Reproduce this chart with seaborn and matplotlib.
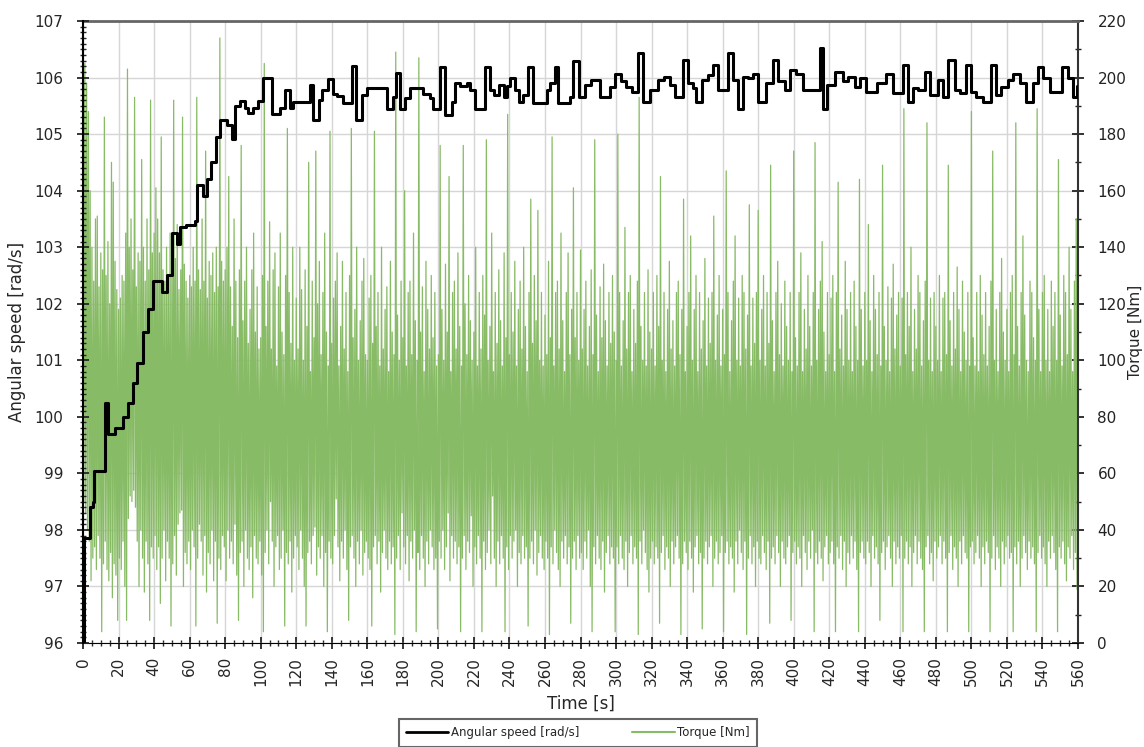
import numpy as np
import pandas as pd
import matplotlib
matplotlib.use('Agg')
import matplotlib.pyplot as plt
from matplotlib.lines import Line2D
from matplotlib.ticker import MultipleLocator
import seaborn as sns

# Angular speed, step signal: time where each step starts [s] and its value [rad/s]
speed_time = [
    0, 0.3, 3.8, 5.5, 6.4, 12.4, 13.8, 18.0, 22.7, 25.5,
    28.3, 30.2, 33.6, 36.8, 39.2, 44.3, 47.5, 49.9, 52.7, 54.6,
    58.0, 63.0, 64.4, 67.4, 69.6, 72.0, 74.9, 77.1, 80.9, 83.7,
    85.5, 88.4, 91.2, 93.0, 95.8, 98.7, 101.1, 106.2, 110.9, 113.7,
    116.5, 118.4, 127.8, 129.6, 133.0, 134.3, 138.1, 140.5, 142.8, 146.5,
    151.2, 153.7, 156.8, 160.1, 170.9, 174.3, 176.2, 178.4, 181.2, 184.1,
    191.6, 195.0, 197.2, 201.0, 203.8, 207.5, 209.4, 212.2, 216.0, 217.8,
    220.6, 226.3, 229.2, 231.1, 233.9, 236.7, 238.6, 240.4, 243.2, 245.1,
    247.9, 250.7, 253.5, 261.0, 262.9, 265.7, 267.5, 274.0, 275.9, 279.2,
    282.4, 286.1, 290.8, 296.5, 299.3, 303.0, 305.8, 308.7, 312.4, 315.2,
    319.0, 323.7, 326.9, 330.2, 333.0, 337.7, 340.6, 343.4, 345.2, 348.1,
    351.8, 354.6, 357.4, 363.1, 365.9, 368.7, 371.5, 374.3, 377.1, 379.9,
    384.6, 388.4, 391.2, 395.0, 397.8, 401.5, 405.3, 414.7, 416.5, 418.8,
    423.1, 427.8, 430.6, 434.4, 437.2, 440.9, 446.6, 452.2, 455.9, 461.6,
    464.4, 467.2, 470.0, 473.8, 476.6, 481.3, 484.1, 486.9, 490.6, 493.5,
    497.2, 500.0, 502.8, 506.6, 511.3, 514.1, 516.9, 520.7, 523.5, 527.2,
    531.0, 534.7, 537.6, 540.4, 544.2, 550.8, 554.5, 557.3, 559.6, 560.0,
]
speed_value = [
    96.0, 97.85, 98.4, 98.5, 99.05, 100.25, 99.7, 99.8, 100.0, 100.25,
    100.6, 100.95, 101.5, 101.9, 102.4, 102.2, 102.5, 103.25, 103.05, 103.35,
    103.4, 103.47, 104.1, 103.9, 104.2, 104.5, 104.95, 105.25, 105.16, 104.92,
    105.49, 105.58, 105.47, 105.37, 105.46, 105.59, 106.0, 105.35, 105.46, 105.78,
    105.47, 105.57, 105.87, 105.25, 105.6, 105.78, 105.98, 105.71, 105.67, 105.55,
    106.2, 105.25, 105.69, 105.81, 105.45, 105.65, 106.08, 105.45, 105.63, 105.81,
    105.71, 105.63, 105.45, 106.19, 105.34, 105.57, 105.9, 105.85, 105.91, 105.78,
    105.45, 106.19, 105.78, 105.69, 105.87, 105.66, 105.85, 105.99, 105.78, 105.57,
    105.69, 106.19, 105.55, 105.78, 105.9, 106.19, 105.55, 105.66, 106.3, 105.66,
    105.87, 105.96, 105.66, 105.84, 106.07, 105.93, 105.84, 105.75, 106.43, 105.57,
    105.78, 105.96, 106.01, 105.87, 105.66, 106.31, 105.9, 105.81, 105.57, 105.96,
    106.04, 106.22, 105.78, 106.43, 105.96, 105.45, 106.01, 105.99, 106.07, 105.57,
    105.9, 106.31, 105.93, 105.78, 106.13, 106.07, 105.78, 106.52, 105.45, 105.87,
    106.1, 105.93, 106.01, 105.84, 105.99, 105.75, 105.9, 106.07, 105.72, 106.22,
    105.57, 105.81, 105.78, 106.1, 105.69, 105.96, 105.66, 106.31, 105.78, 105.72,
    106.22, 105.75, 105.66, 105.57, 106.22, 105.69, 105.84, 105.96, 106.07, 105.9,
    105.57, 105.9, 106.19, 105.99, 105.75, 106.19, 105.99, 105.66, 105.85, 105.85,
]

# Torque [Nm]: upper and lower swing read for each second, 0..559 s (one row = 20 s)
torque_high = [
    215, 205, 198, 188, 160, 140, 128, 150, 151, 126, 138, 132, 186, 130, 142, 120, 170, 163, 135, 125,
    118, 122, 130, 128, 145, 203, 140, 150, 132, 193, 126, 138, 135, 171, 140, 128, 150, 132, 192, 138,
    145, 161, 150, 138, 179, 132, 128, 140, 126, 145, 130, 192, 136, 148, 125, 132, 186, 134, 128, 122,
    130, 126, 140, 128, 193, 132, 125, 150, 128, 174, 122, 135, 130, 138, 124, 140, 126, 214, 135, 128,
    132, 140, 165, 126, 112, 150, 128, 108, 132, 176, 114, 128, 140, 106, 118, 132, 145, 110, 126, 104,
    108, 130, 205, 112, 128, 149, 104, 132, 138, 98, 126, 145, 110, 102, 130, 182, 124, 106, 140, 100,
    122, 104, 140, 125, 100, 132, 112, 170, 96, 128, 108, 174, 120, 135, 102, 124, 145, 110, 98, 181,
    106, 122, 128, 138, 98, 112, 135, 104, 124, 96, 130, 182, 108, 118, 140, 100, 114, 128, 136, 102,
    100, 122, 130, 106, 181, 112, 124, 98, 140, 104, 118, 126, 96, 135, 110, 102, 209, 116, 100, 128,
    108, 160, 98, 124, 128, 102, 145, 114, 100, 207, 110, 126, 96, 135, 118, 104, 130, 108, 124, 98,
    102, 176, 118, 100, 134, 110, 165, 96, 124, 128, 104, 138, 112, 98, 176, 120, 102, 130, 114, 100,
    110, 140, 98, 124, 104, 130, 116, 178, 100, 112, 145, 96, 124, 106, 132, 114, 98, 138, 108, 187,
    102, 124, 110, 135, 98, 118, 128, 104, 140, 112, 96, 124, 157, 106, 130, 114, 153, 100, 124, 98,
    116, 102, 135, 108, 179, 98, 124, 128, 104, 145, 114, 96, 124, 138, 102, 118, 161, 108, 124, 100,
    139, 104, 118, 128, 98, 112, 132, 102, 178, 116, 96, 126, 108, 134, 114, 98, 124, 106, 130, 110,
    100, 180, 124, 98, 114, 147, 104, 124, 130, 96, 118, 106, 128, 193, 112, 100, 124, 98, 132, 110,
    104, 124, 98, 130, 112, 165, 100, 124, 96, 118, 135, 104, 114, 98, 124, 128, 102, 118, 157, 96,
    112, 124, 144, 100, 118, 130, 96, 124, 104, 114, 136, 98, 122, 106, 124, 151, 100, 116, 130, 98,
    118, 102, 167, 124, 96, 114, 128, 144, 100, 122, 98, 130, 124, 104, 116, 155, 98, 122, 106, 124,
    153, 100, 118, 130, 98, 124, 106, 169, 114, 96, 124, 135, 102, 120, 98, 128, 112, 100, 124, 96,
    174, 108, 98, 124, 138, 96, 118, 104, 130, 112, 98, 124, 177, 100, 118, 128, 142, 110, 96, 124,
    102, 122, 130, 96, 124, 163, 104, 116, 98, 135, 118, 100, 124, 96, 128, 112, 100, 164, 118, 98,
    124, 100, 148, 114, 96, 130, 118, 102, 124, 98, 169, 112, 100, 126, 96, 122, 134, 104, 116, 124,
    98, 122, 189, 102, 124, 112, 140, 96, 118, 104, 130, 124, 98, 114, 128, 184, 100, 122, 96, 124,
    112, 100, 130, 96, 122, 124, 102, 169, 114, 98, 124, 104, 133, 118, 96, 128, 110, 100, 124, 98,
    188, 108, 98, 124, 96, 130, 116, 102, 124, 98, 112, 128, 174, 100, 118, 96, 124, 136, 110, 100,
    118, 96, 124, 130, 102, 184, 112, 98, 124, 144, 116, 100, 96, 128, 124, 108, 100, 189, 118, 96,
    124, 130, 100, 118, 96, 128, 112, 124, 100, 171, 116, 98, 130, 124, 102, 140, 118, 96, 128, 150,
]
torque_low = [
    50, 46, 40, 36, 22, 30, 34, 26, 38, 30, 4, 28, 36, 26, 22, 32, 16, 28, 24, 8,
    30, 26, 36, 20, 8, 44, 52, 50, 54, 48, 36, 20, 40, 30, 18, 36, 28, 8, 34, 30,
    38, 26, 34, 14, 30, 40, 22, 36, 30, 6, 28, 38, 24, 42, 46, 47, 20, 32, 28, 36,
    26, 40, 34, 6, 30, 42, 36, 24, 38, 18, 32, 28, 40, 22, 36, 7, 30, 26, 38, 34,
    22, 40, 30, 36, 28, 42, 24, 8, 32, 36, 20, 40, 30, 26, 34, 16, 38, 30, 28, 36,
    24, 4, 32, 40, 28, 50, 36, 20, 34, 38, 26, 30, 40, 6, 32, 28, 36, 18, 30, 38,
    34, 26, 40, 30, 20, 6, 32, 36, 28, 38, 41, 24, 34, 30, 38, 20, 32, 4, 36, 30,
    28, 38, 51, 34, 22, 36, 30, 40, 26, 8, 34, 38, 30, 20, 36, 28, 40, 24, 32, 36,
    30, 26, 6, 34, 38, 28, 36, 18, 32, 40, 30, 26, 36, 28, 34, 3, 30, 38, 26, 46,
    34, 28, 38, 22, 36, 30, 40, 4, 32, 26, 38, 30, 20, 36, 28, 40, 34, 26, 30, 5,
    36, 30, 40, 26, 34, 46, 22, 38, 30, 36, 28, 34, 4, 30, 38, 26, 36, 32, 45, 20,
    34, 28, 38, 30, 4, 36, 26, 32, 40, 28, 52, 30, 20, 36, 28, 38, 30, 4, 34, 26,
    38, 30, 36, 40, 20, 32, 28, 38, 30, 34, 6, 30, 36, 28, 40, 24, 32, 38, 30, 26,
    36, 30, 3, 34, 28, 40, 32, 26, 20, 36, 30, 38, 28, 34, 7, 30, 36, 26, 38, 30,
    32, 26, 36, 30, 40, 20, 4, 34, 28, 38, 30, 26, 36, 18, 32, 38, 28, 34, 30, 4,
    34, 28, 38, 30, 26, 36, 20, 32, 38, 28, 34, 30, 3, 36, 28, 40, 32, 26, 18, 30,
    36, 28, 34, 30, 7, 32, 38, 26, 34, 30, 20, 36, 28, 34, 38, 30, 3, 28, 36, 32,
    26, 36, 30, 18, 34, 38, 28, 32, 5, 30, 36, 28, 34, 38, 20, 30, 36, 28, 32, 38,
    4, 32, 36, 28, 34, 30, 18, 36, 28, 40, 32, 26, 36, 3, 30, 38, 28, 34, 20, 36,
    30, 28, 38, 32, 26, 36, 7, 30, 34, 28, 38, 32, 20, 36, 30, 28, 34, 38, 8, 32,
    36, 28, 34, 30, 20, 38, 32, 26, 36, 30, 40, 4, 32, 28, 36, 30, 22, 34, 38, 28,
    32, 36, 28, 4, 34, 30, 38, 26, 36, 20, 32, 28, 38, 30, 36, 26, 4, 32, 36, 30,
    28, 36, 32, 20, 38, 30, 34, 28, 8, 32, 36, 26, 34, 38, 30, 20, 36, 28, 34, 30,
    38, 4, 30, 36, 28, 34, 20, 32, 38, 28, 36, 30, 26, 4, 34, 38, 28, 32, 22, 36,
    30, 34, 38, 28, 36, 30, 4, 32, 38, 26, 34, 30, 20, 36, 28, 38, 32, 30, 4, 34,
    36, 28, 32, 38, 30, 20, 34, 28, 36, 32, 4, 30, 38, 26, 34, 30, 20, 36, 28, 34,
    38, 30, 32, 4, 34, 28, 36, 20, 30, 38, 32, 26, 36, 30, 34, 28, 4, 32, 38, 30,
    34, 28, 20, 36, 30, 38, 32, 26, 4, 34, 30, 36, 28, 22, 34, 30, 38, 26, 32, 19,
]

speed_df = pd.DataFrame({'time': speed_time, 'speed': speed_value})
# high swing at the whole second, low swing half a second later
torque_df = pd.DataFrame({
    'time': np.arange(0, len(torque_high), 0.5),
    'torque': np.column_stack([torque_high, torque_low]).ravel(),
})

sns.set_style('white')
plt.rcParams['font.family'] = ['DejaVu Sans']

green = '#88bb66'
fig = plt.figure(figsize=(11.44, 7.47), dpi=100)
ax_t = fig.add_axes([0.0726, 0.1392, 0.8697, 0.8327])
ax_s = ax_t.twinx()
# torque axis lives underneath (with the grid), speed on top; swap the sides
ax_t.yaxis.tick_right()
ax_t.yaxis.set_label_position('right')
ax_s.yaxis.tick_left()
ax_s.yaxis.set_label_position('left')

sns.lineplot(data=torque_df, x='time', y='torque', ax=ax_t, color=green,
             lw=0.9, estimator=None, sort=False, legend=False)
sns.lineplot(data=speed_df, x='time', y='speed', ax=ax_s, color='black',
             lw=2.2, drawstyle='steps-post', estimator=None, sort=False, legend=False)

ax_t.set_xlim(0, 560)
ax_t.set_ylim(0, 220)
ax_s.set_ylim(96, 107)
ax_t.xaxis.set_major_locator(MultipleLocator(20))
ax_t.xaxis.set_minor_locator(MultipleLocator(5))
ax_t.yaxis.set_major_locator(MultipleLocator(20))
ax_t.yaxis.set_minor_locator(MultipleLocator(10))
ax_s.yaxis.set_major_locator(MultipleLocator(1))
ax_s.yaxis.set_minor_locator(MultipleLocator(0.1))

ax_t.grid(True, which='major', color='#d6d6d6', lw=1)
ax_t.set_axisbelow(True)

for ax in (ax_t, ax_s):
    for sp in ax.spines.values():
        sp.set_visible(False)
ax_t.spines['bottom'].set_visible(True)
ax_t.spines['bottom'].set_color('black')
ax_t.spines['top'].set_visible(True)
ax_t.spines['top'].set_color('#666666')
ax_t.spines['top'].set_linewidth(2)
ax_t.spines['right'].set_visible(True)
ax_t.spines['right'].set_color('#333333')
ax_t.spines['right'].set_linewidth(1.5)
ax_s.spines['left'].set_visible(True)
ax_s.spines['left'].set_color('black')
ax_s.spines['left'].set_linewidth(1.5)

ax_t.tick_params(axis='x', which='major', direction='inout', length=8, width=1.3,
                 pad=6, labelsize=11, labelrotation=90, bottom=True)
ax_t.tick_params(axis='x', which='minor', direction='inout', length=5, width=1, bottom=True)
ax_t.tick_params(axis='y', which='major', direction='inout', length=8, width=1.3,
                 pad=10, labelsize=11, right=True, left=False, colors='#222222')
ax_t.tick_params(axis='y', which='minor', direction='inout', length=5, width=1,
                 right=True, left=False, color='#222222')
ax_s.tick_params(axis='y', which='major', direction='inout', length=8, width=1.3,
                 pad=10, labelsize=11, left=True, right=False)
ax_s.tick_params(axis='y', which='minor', direction='inout', length=5, width=1,
                 left=True, right=False)

ax_t.set_xlabel('Time [s]', fontsize=12, labelpad=6)
ax_t.set_ylabel('Torque [Nm]', fontsize=11, labelpad=1)
ax_s.set_ylabel('Angular speed [rad/s]', fontsize=12, labelpad=6)

handles = [Line2D([], [], color='black', lw=2),
           Line2D([], [], color=green, lw=1.5)]
leg = fig.legend(handles, ['Angular speed [rad/s]', 'Torque [Nm]'],
                 loc='upper center', bbox_to_anchor=(0.505, 0.037), ncol=2,
                 fontsize=8.5, frameon=True, fancybox=False, handlelength=3.6,
                 handletextpad=0.2, columnspacing=4.5, borderpad=0.6,
                 borderaxespad=0)
leg.get_frame().set_edgecolor('#404040')
leg.get_frame().set_linewidth(1.5)

fig.savefig('out.png', dpi=100)
